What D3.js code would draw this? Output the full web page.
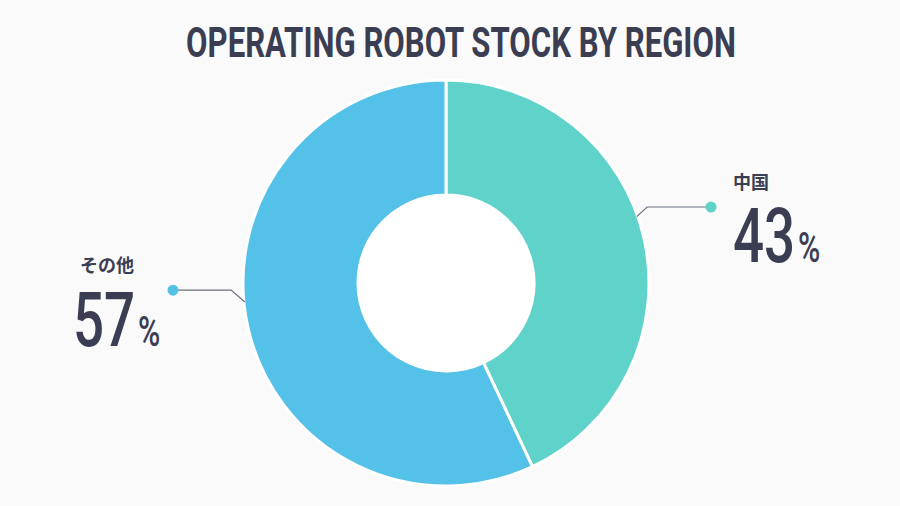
<!DOCTYPE html>
<html>
<head>
<meta charset="utf-8">
<script src="https://cdn.jsdelivr.net/npm/d3@7"></script>
<style>
  html, body { margin: 0; padding: 0; background: #fafafa; }
  svg { display: block; }
</style>
</head>
<body>
<div id="chart"></div>
<script>
// data
const regions = ["中国", "その他"];
const shares = [43, 57];
const sliceColors = ["#5fd3ca", "#54c1e9"];
const title = "OPERATING ROBOT STOCK BY REGION";

const width = 900,
    height = 506;
const cx = 446, cy = 283,
    outerR = 203, innerR = 88;
const ink = "#3b3e53";

// leader line / label layout, one entry per region
const labelLayout = [
  {startAngle: 70.8, elbowAngle: 69.3, dotX: 711, textX: 733, nameY: 189, numY: 262},
  {startAngle: 264.6, elbowAngle: 268.1, dotX: 173, textX: 80, nameY: 272, numY: 346}
];

const svg = d3.select("#chart")
  .append("svg")
  .attr("width", width)
  .attr("height", height);

svg.append("rect")
  .attr("width", width)
  .attr("height", height)
  .attr("fill", "#fafafa");

// title, squeezed to a condensed look that spans 550px
const titleText = svg.append("text")
  .attr("font-family", "Roboto, 'DejaVu Sans', sans-serif")
  .attr("font-weight", 700)
  .attr("font-size", 42)
  .attr("fill", ink)
  .attr("text-anchor", "middle")
  .text(title);
const natural = titleText.node().getComputedTextLength();
titleText.attr("transform", `translate(461,57) scale(${550 / natural},1)`);

const pie = d3.pie().sort(null).value(d => d);
const arcs = pie(shares);

const arc = d3.arc().innerRadius(innerR).outerRadius(outerR);

const g = svg.append("g")
  .attr("transform", `translate(${cx},${cy})`);

g.selectAll("path.slice")
  .data(arcs)
  .join("path")
  .attr("class", "slice")
  .attr("d", arc)
  .attr("fill", (d, i) => sliceColors[i])
  .attr("stroke", "#ffffff")
  .attr("stroke-width", 3)
  .attr("stroke-linejoin", "round");

// white hole so the center reads as pure white
g.append("circle")
  .attr("r", innerR - 1)
  .attr("fill", "#ffffff");

function polar(r, deg) {
  const a = deg * Math.PI / 180;
  return [cx + r * Math.sin(a), cy - r * Math.cos(a)];
}

labelLayout.forEach(function(l, i) {
  const start = polar(outerR - 1, l.startAngle);
  const elbow = polar(outerR + 12, l.elbowAngle);
  const pts = [start, elbow, [l.dotX, elbow[1]]];

  svg.append("path")
    .attr("d", d3.line()(pts))
    .attr("fill", "none")
    .attr("stroke", "#6b6e7e")
    .attr("stroke-width", 1.2);

  svg.append("circle")
    .attr("cx", l.dotX)
    .attr("cy", elbow[1])
    .attr("r", 5.5)
    .attr("fill", sliceColors[i]);

  svg.append("text")
    .attr("x", l.textX)
    .attr("y", l.nameY)
    .attr("font-family", "'Noto Sans CJK JP', 'Noto Sans', sans-serif")
    .attr("font-weight", 700)
    .attr("font-size", 18)
    .attr("fill", ink)
    .text(regions[i]);

  // condensed look: squeeze horizontally
  const num = svg.append("text")
    .attr("transform", `translate(${l.textX - (i === 1 ? 7 : 0)},${l.numY}) scale(0.72,1)`)
    .attr("font-family", "Roboto, 'DejaVu Sans', sans-serif")
    .attr("font-weight", 500)
    .attr("font-size", 76)
    .attr("fill", ink);
  num.append("tspan").text(shares[i]);
  num.append("tspan")
    .attr("font-size", 42)
    .attr("dx", 4)
    .text("%");
});
</script>
</body>
</html>
